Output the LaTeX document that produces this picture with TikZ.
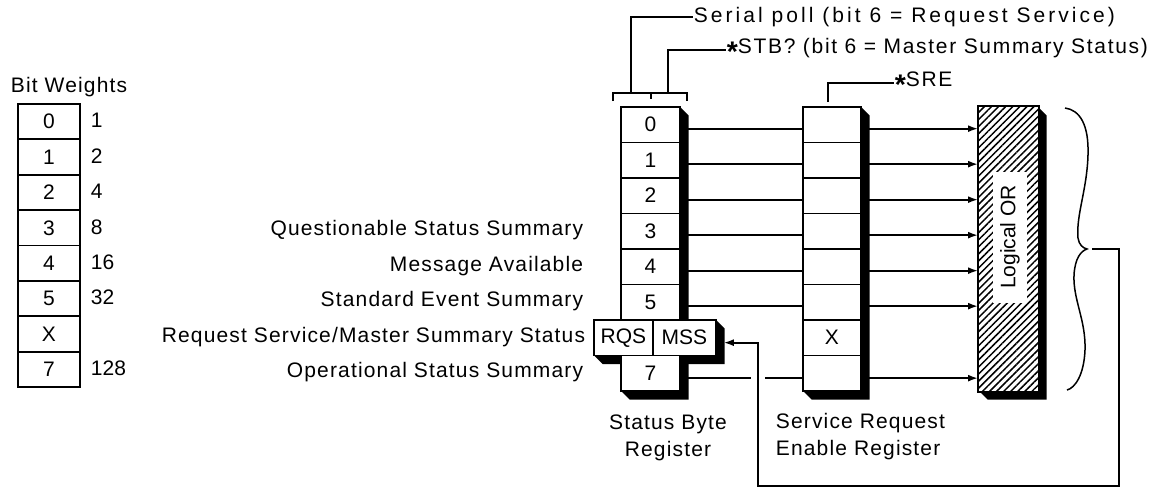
\documentclass[tikz,border=0pt]{standalone}
\usepackage{fontspec}
\setmainfont{Liberation Sans}
\newfontfamily\labfont[LetterSpace=5.5]{Liberation Sans}
\newfontfamily\spfont[LetterSpace=14.5]{Liberation Sans}
\newfontfamily\stbfont[LetterSpace=8]{Liberation Sans}
\usetikzlibrary{patterns.meta,arrows.meta}
\newcommand{\myast}{\raisebox{-0.38em}{\scalebox{1.35}{\bfseries *}}}
\begin{document}
\begin{tikzpicture}[x=1pt,y=-1pt,line width=1.8pt,
  every node/.style={font=\fontsize{21}{27}\selectfont, inner sep=0pt},
  cell/.style={draw, fill=white, minimum width=59, minimum height=35.5, anchor=north west},
  lab/.style={font=\labfont\fontsize{21}{27}\selectfont},
  arr/.style={-{Latex[length=10pt,width=7pt]}},
]
\useasboundingbox (0,0) rectangle (1163,490);

% ---- Bit weights
\node[lab, anchor=west] (bwtitle) at (10,87) {Bit Weights};
\foreach \t [count=\i from 0] in {0,1,2,3,4,5,X,7}
  \node[cell, minimum width=62, minimum height=35.4] (bw\i) at (17,103+35.4*\i) {\t};
\foreach \w/\i in {1/0,2/1,4/2,8/3,16/4,32/5,128/7}
  \node[anchor=west] (wt\i) at (90,120.7+35.4*\i) {\w};

% ---- coordinates for feedback
\coordinate (tip) at (1087,249);
\coordinate (fbR) at (1119,486);
\coordinate (fbL) at (758,486);

% ---- register cell placeholders
\foreach \i in {0,...,5}
  \node[cell, draw=none, fill=none] (sb\i) at (620,106+35.5*\i) {};
\node[cell, draw=none, fill=none] (rqs) at (593,319) {};
\node[cell, draw=none, fill=none, minimum width=63] (mss) at (652,319) {};
\node[cell, draw=none, fill=none] (sb7) at (620,354.5) {};
\foreach \i in {0,...,7}
  \node[cell, draw=none, fill=none, minimum width=58] (sre\i) at (802,106+35.5*\i) {};
\node[draw=none, minimum width=59, minimum height=284, anchor=north west] (lor) at (978,106) {};

% ---- connectors
\foreach \i in {0,...,5} {
  \draw ([yshift=-4]sb\i.east) -- ([yshift=-4]sre\i.west);
  \draw[arr] ([yshift=-4]sre\i.east) -- ([yshift=-4]sre\i.east -| lor.west);
}
\draw ([yshift=-5]sb7.east) -- ([xshift=-7,yshift=-5]sb7.east -| fbL);
\draw ([xshift=7,yshift=-5]sb7.east -| fbL) -- ([yshift=-5]sre7.west);
\draw[arr] ([yshift=-5]sre7.east) -- ([yshift=-5]sre7.east -| lor.west);
\draw[arr] ([xshift=5]tip) -| (fbR) -- (fbL) |- ([xshift=7,yshift=-5]mss.east);

% ---- 3D shadows (extrusion by 9.5 down-right)
\fill (620,106) -- (679,106) -- (688.5,115.5) -- (688.5,399.5) -- (629.5,399.5) -- (620,390) -- cycle;
\fill (593,319) -- (715,319) -- (724.5,328.5) -- (724.5,364) -- (602.5,364) -- (593,354.5) -- cycle;
\fill (802,106) -- (860,106) -- (869.5,115.5) -- (869.5,399.5) -- (811.5,399.5) -- (802,390) -- cycle;
\fill (978,106) -- (1037,106) -- (1046.5,115.5) -- (1046.5,399.5) -- (987.5,399.5) -- (978,390) -- cycle;

% ---- Status byte register cells
\foreach \i in {0,...,5}
  \node[cell] at (sb\i.north west) {\i};
\node[cell] at (rqs.north west) {RQS};
\node[cell, minimum width=63] at (mss.north west) {MSS};
\node[cell] at (sb7.north west) {7};

% ---- SRE cells
\foreach \i in {0,...,5,7}
  \node[cell, minimum width=58] at (sre\i.north west) {};
\node[cell, minimum width=58] at (sre6.north west) {X};

% ---- Logical OR
\fill[white] (lor.north west) rectangle (lor.south east);
\draw[pattern={Lines[angle=45,distance=5pt,line width=1.5pt]}] (lor.north west) rectangle (lor.south east);
\node[fill=white, rotate=90, minimum width=131, minimum height=34] (lortxt) at (1010,237) {Logical OR};

% ---- brace
\draw[line width=1.5pt] (1065,108) .. controls (1080,110) and (1089,125) .. (1088,155)
  .. controls (1087,190) and (1076,215) .. (1078,238)
  .. controls (1079,245) and (1083,248) .. (tip)
  .. controls (1081,251) and (1075,258) .. (1074,275)
  .. controls (1073,300) and (1086,320) .. (1085,350)
  .. controls (1084,375) and (1075,388) .. (1067,390);

% ---- top labels and bracket
\node[font=\spfont\fontsize{21}{27}\selectfont, anchor=west] (sp) at (693,17) {Serial poll (bit 6 = Request Service)};
\node[font=\stbfont\fontsize{21}{27}\selectfont, anchor=west] (stb) at (726,50) {\myast STB? (bit 6 = Master Summary Status)};
\node[font=\stbfont\fontsize{21}{27}\selectfont, anchor=west] (sretxt) at (894,83) {\myast SRE};
\draw (613,101) -- (613,93) -- (687,93) -- (687,101);
\draw (651,93) -- (651,99);
\coordinate (brA) at (631,93);
\coordinate (brB) at (668,93);
\draw (brA) |- (sp.west);
\draw (brB) |- (stb.west);
\draw ([xshift=26,yshift=4]sre0.north west) |- (sretxt.west);

% ---- left labels
\node[lab, anchor=east] (l3) at (584,230.25) {Questionable Status Summary};
\node[lab, anchor=east] (l4) at (584,265.75) {Message Available};
\node[lab, anchor=east] (l5) at (584,301.25) {Standard Event Summary};
\node[lab, anchor=east] (l6) at (586,336.75) {Request Service/Master Summary Status};
\node[lab, anchor=east] (l7) at (584,372.25) {Operational Status Summary};

% ---- bottom labels
\node[lab, align=center] (sbl) at (668,438) {Status Byte\\Register};
\node[lab, align=left, anchor=west] (srel) at (775,437) {Service Request\\Enable Register};
\end{tikzpicture}
\end{document}
